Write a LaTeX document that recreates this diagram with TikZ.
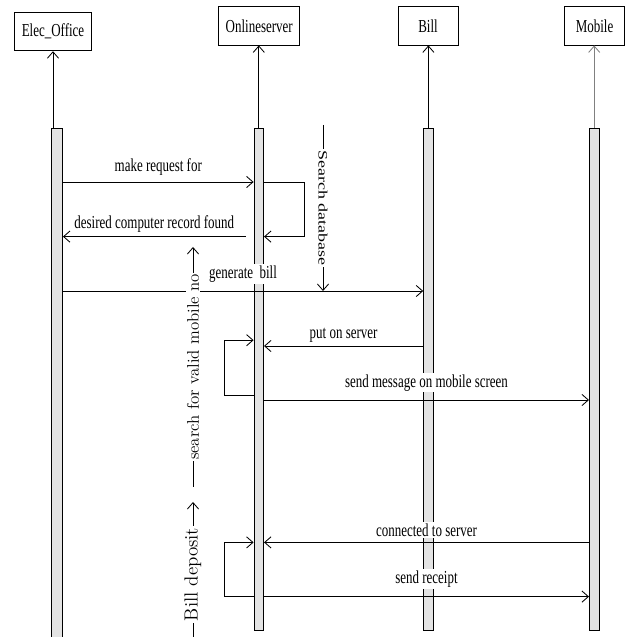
\documentclass[tikz,border=0pt]{standalone}
\usepackage{fontspec}
\usepackage{graphicx}
\usetikzlibrary{arrows.meta}

\newfontfamily\timesfont{Liberation Serif}
% narrow text (horizontal) and flat text (for rotated labels)
\newcommand{\sq}[1]{\scalebox{0.71}[1]{#1}}
\newcommand{\sqv}[1]{\scalebox{1}[0.71]{#1}}

\begin{document}
\begin{tikzpicture}[>={Straight Barb[length=1.6mm,width=2.8mm]}, line width=0.6pt,
    obj/.style={draw, minimum height=0.96cm, minimum width=1.5cm, inner xsep=0.18cm,
        font=\timesfont\fontsize{13}{15}\selectfont},
    bar/.style={draw, fill=gray!22, inner sep=0pt, anchor=north, minimum width=0.24cm},
    msg/.style={midway, fill=white, inner sep=1pt, font=\timesfont\fontsize{13}{15}\selectfont},
    note/.style={midway, fill=white, inner sep=1pt}]

    \useasboundingbox (0,0) rectangle (15.8,15.925);

    % objects
    \node[obj] (elec) at (1.325,15.135) {\sq{Elec\_Office}};
    \node[obj] (online) at (6.48,15.28) {\sq{Onlineserver}};
    \node[obj] (bill) at (10.7,15.28) {\sq{Bill}};
    \node[obj] (mobile) at (14.865,15.28) {\sq{Mobile}};

    % activation bars
    \node[bar, minimum width=0.2875cm, minimum height=13cm] (eBar) at (1.419,12.725) {};
    \node[bar, minimum height=12.55cm] (oBar) at (6.47,12.725) {};
    \node[bar, minimum height=12.55cm] (bBar) at (10.71,12.725) {};
    \node[bar, minimum height=12.55cm] (mBar) at (14.855,12.725) {};

    % lifelines
    \draw[->] (elec.south |- eBar.north) -- (elec.south);
    \draw[->] (oBar.north) -- (oBar.north |- online.south);
    \draw[->] (bBar.north) -- (bBar.north |- bill.south);
    \draw[->, gray] (mBar.north) -- (mBar.north |- mobile.south);

    % message rows
    \coordinate (r1) at (0,11.375);
    \coordinate (r2) at (0,10.01);
    \coordinate (r3) at (0,8.65);
    \coordinate (r4) at (0,7.42);
    \coordinate (r5) at (0,7.275);
    \coordinate (r6) at (0,6.05);
    \coordinate (r7) at (0,5.925);
    \coordinate (r8) at (0,2.365);
    \coordinate (r9) at (0,1.01);

    % make request for
    \draw[->] (eBar.east |- r1) -- (oBar.west |- r1) node[msg, above=0.13cm] {\sq{make request for}};

    % self call on server
    \draw[->] (oBar.east |- r1) -- ++(1,0) |- (oBar.east |- r2);

    % desired computer record found
    \draw[->] ([xshift=-0.2cm]oBar.west |- r2) -- (eBar.east |- r2) node[msg, above=0.06cm] {\sq{desired computer record found}};

    % generate bill
    \draw[->] (eBar.east |- r3) -- (bBar.west |- r3) node[msg, above=0.17cm] {\sq{generate\ \ bill}};

    % put on server
    \draw[->] (bBar.west |- r5) -- (oBar.east |- r5) node[msg, above=0.05cm] {\sq{put on server}};
    \draw[->] (oBar.west |- r6) -- ++(-0.72,0) |- (oBar.west |- r4);

    % send message on mobile screen
    \draw[->] (oBar.east |- r7) -- (mBar.west |- r7) node[msg, above=0.18cm] {\sq{send message on mobile screen}};

    % connected to server
    \draw[->] (mBar.west |- r8) -- (oBar.east |- r8) node[msg, above=0.1cm] {\sq{connected to server}};
    \draw[->] (oBar.west |- r9) -- ++(-0.72,0) |- (oBar.west |- r8);

    % send receipt
    \draw[->] (oBar.east |- r9) -- (mBar.west |- r9) node[msg, above=0.19cm] {\sq{send receipt}};

    % Search database
    \coordinate (sdTop) at (8.075,12.8);
    \draw[->] (sdTop) -- (sdTop |- r3) node[note, rotate=-90, font=\timesfont\fontsize{12.8}{15}\selectfont] {\sqv{Search database}};

    % search for valid mobile no
    \coordinate (svBot) at (4.825,3.75);
    \draw[->] (svBot) -- ++(0,6) node[note, rotate=90, font=\fontsize{12}{14}\selectfont] {search for valid mobile no};

    % Bill deposit
    \coordinate (bdBot) at (4.825,-0.25);
    \draw[->] (bdBot) -- ++(0,3.625) node[note, rotate=90, font=\fontsize{13.5}{15}\selectfont] {Bill deposit};
\end{tikzpicture}
\end{document}
